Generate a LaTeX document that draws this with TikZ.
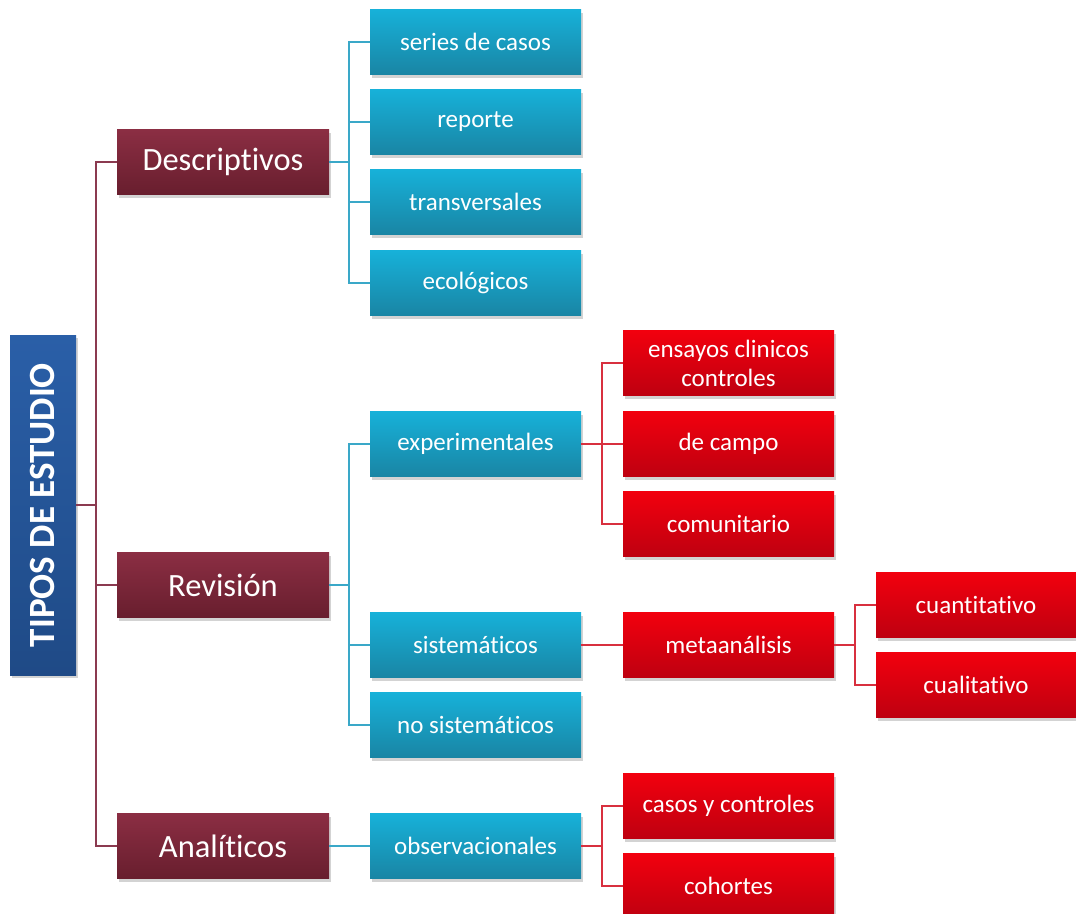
\documentclass[tikz,border=0pt]{standalone}
\usepackage{fontspec}
\setmainfont{Carlito}[Ligatures=NoCommon]
\usetikzlibrary{shadows}
\definecolor{rootA}{HTML}{2A5FA8}
\definecolor{rootB}{HTML}{1F4A86}
\definecolor{marA}{HTML}{8B2E43}
\definecolor{marB}{HTML}{681E2E}
\definecolor{bluA}{HTML}{17B1D9}
\definecolor{bluB}{HTML}{1985A4}
\definecolor{redA}{HTML}{F2000E}
\definecolor{redB}{HTML}{BE0010}
\definecolor{marLine}{HTML}{8B3A50}
\definecolor{bluLine}{HTML}{3AA8C8}
\definecolor{redLine}{HTML}{D8303F}
\tikzset{
  boxbase/.style={rectangle, inner sep=0pt, text=white, align=center,
    drop shadow={opacity=0.35, shadow xshift=2pt, shadow yshift=-3pt}},
  rootbox/.style={boxbase, minimum width=66pt, minimum height=340pt,
    top color=rootA, bottom color=rootB},
  lvlone/.style={boxbase, minimum width=212pt, minimum height=65pt,
    top color=marA, bottom color=marB, font=\fontsize{32.5}{36}\selectfont},
  bluebox/.style={boxbase, minimum width=211pt, minimum height=65pt,
    top color=bluA, bottom color=bluB, font=\fontsize{25}{29}\selectfont},
  redbox/.style={boxbase, minimum width=211pt, minimum height=65pt,
    top color=redA, bottom color=redB, font=\fontsize{25}{29}\selectfont},
  redboxs/.style={redbox, minimum width=200pt},
  marlink/.style={draw=marLine, line width=2pt},
  blulink/.style={draw=bluLine, line width=2pt},
  redlink/.style={draw=redLine, line width=2pt},
}
\begin{document}
\begin{tikzpicture}[x=1pt,y=-1pt]
\useasboundingbox (0,0) rectangle (1076,913);
% root
\node[rootbox] (root) at (43,505) {};
\node[rotate=90, text=white, font=\fontsize{37}{40}\selectfont\bfseries] (roottxt) at (root.center) {TIPOS DE ESTUDIO};
% level 1
\node[lvlone] (desc) at (223,162) {Descriptivos};
\node[lvlone] (rev) at (223,585) {Revisión};
\node[lvlone] (ana) at (223,846) {Analíticos};
% descriptivos children
\node[bluebox] (ser) at (475.5,42) {series de casos};
\node[bluebox] (rep) at (475.5,122) {reporte};
\node[bluebox] (tra) at (475.5,202) {transversales};
\node[bluebox] (eco) at (475.5,283) {ecológicos};
% revision children
\node[bluebox] (exp) at (475.5,444) {experimentales};
\node[bluebox] (sis) at (475.5,645) {sistemáticos};
\node[bluebox] (nos) at (475.5,725) {no sistemáticos};
% analiticos children
\node[bluebox] (obs) at (475.5,846) {observacionales};
% red boxes
\node[redbox] (ens) at (728.5,363) {ensayos clinicos\\controles};
\node[redbox] (cam) at (728.5,444) {de campo};
\node[redbox] (com) at (728.5,524) {comunitario};
\node[redbox] (met) at (728.5,645) {metaanálisis};
\node[redboxs] (cuan) at (976,605) {cuantitativo};
\node[redboxs] (cual) at (976,685) {cualitativo};
\node[redbox] (cas) at (728.5,806) {casos y controles};
\node[redbox] (coh) at (728.5,886) {cohortes};
% junctions
\coordinate (j0) at (96,505);
\coordinate (j1) at (349,162);
\coordinate (j2) at (349,585);
\coordinate (j3) at (602,444);
\coordinate (j4) at (855,645);
\coordinate (j5) at (602,846);
% connectors
\draw[marlink] (root.east) -- (j0);
\draw[marlink] (j0) |- (desc.west);
\draw[marlink] (j0) |- (rev.west);
\draw[marlink] (j0) |- (ana.west);
\draw[blulink] (desc.east) -- (j1);
\draw[blulink] (j1) |- (ser.west);
\draw[blulink] (j1) |- (rep.west);
\draw[blulink] (j1) |- (tra.west);
\draw[blulink] (j1) |- (eco.west);
\draw[blulink] (rev.east) -- (j2);
\draw[blulink] (j2) |- (exp.west);
\draw[blulink] (j2) |- (sis.west);
\draw[blulink] (j2) |- (nos.west);
\draw[blulink] (ana.east) -- (obs.west);
\draw[redlink] (exp.east) -- (j3);
\draw[redlink] (j3) |- (ens.west);
\draw[redlink] (j3) |- (cam.west);
\draw[redlink] (j3) |- (com.west);
\draw[redlink] (sis.east) -- (met.west);
\draw[redlink] (met.east) -- (j4);
\draw[redlink] (j4) |- (cuan.west);
\draw[redlink] (j4) |- (cual.west);
\draw[redlink] (obs.east) -- (j5);
\draw[redlink] (j5) |- (cas.west);
\draw[redlink] (j5) |- (coh.west);
\end{tikzpicture}
\end{document}
